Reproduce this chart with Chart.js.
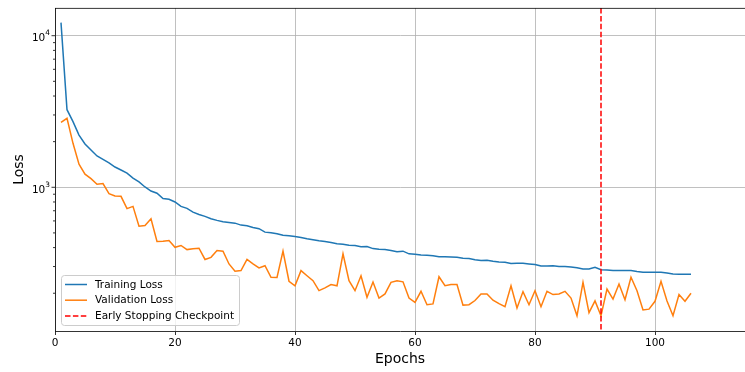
<!DOCTYPE html>
<html>
<head>
<meta charset="utf-8">
<script src="https://cdn.jsdelivr.net/npm/chart.js@4.4.0/dist/chart.umd.min.js"></script>
<style>
  html, body { margin: 0; padding: 0; background: #fff; }
  #lossChart { display: block; }
</style>
</head>
<body>
<canvas id="lossChart" width="745" height="372"></canvas>
<script>
// epochs on the x axis
const epochs = [1,2,3,4,5,6,7,8,9,10,11,12,13,14,15,16,17,18,19,20,21,22,23,24,25,26,27,28,29,30,
  31,32,33,34,35,36,37,38,39,40,41,42,43,44,45,46,47,48,49,50,51,52,53,54,55,56,57,58,59,60,
  61,62,63,64,65,66,67,68,69,70,71,72,73,74,75,76,77,78,79,80,81,82,83,84,85,86,87,88,89,90,
  91,92,93,94,95,96,97,98,99,100,101,102,103,104,105,106];

const trainLoss = [12200,3250,2710,2210,1930,1760,1610,1530,1450,1360,1300,1240,1150,1085,1005,945,913,843,833,800,
  748,726,686,662,643,620,605,593,586,580,563,558,543,533,506,501,494,483,479,474,
  467,457,450,444,439,432,424,421,415,413,405,407,394,390,388,383,375,379,364,362,
  358,356,353,348,348,347,345,340,339,333,329,330,325,322,320,314,315,315,312,309,
  303,303,304,300,300,298,295,289,289,297,286,285,282,282,283,282,278,275,275,275,
  275,272,268,267,267,267];

const valLoss = [2680,2850,1950,1420,1220,1140,1047,1058,908,876,872,723,748,554,560,620,439,440,446,402,
  413,388,393,396,334,345,383,379,312,279,282,334,312,294,304,255,254,379,240,224,
  282,261,242,208,217,228,224,364,242,208,261,188,237,186,198,236,242,238,186,174,
  206,168,170,257,224,228,228,167,168,179,198,198,180,171,163,224,160,205,168,208,
  163,206,196,198,206,186,142,236,149,178,142,213,183,230,181,255,208,155,157,177,
  240,178,142,196,177,200];

const earlyStopEpoch = 91;

const xTicks = [0, 20, 40, 60, 80, 100];
const yMajorTicks = [1000, 10000];
const yMinorTicks = [200, 300, 400, 500, 600, 700, 800, 900, 2000, 3000, 4000, 5000, 6000, 7000, 8000, 9000];

const legendItems = ['Training Loss', 'Validation Loss', 'Early Stopping Checkpoint'];

const FONT = "'DejaVu Sans', sans-serif";
const BLUE = '#1f77b4';
const ORANGE = '#ff7f0e';
const DASH = [5.5, 2.4];

const toPoints = vals => vals.map((v, i) => ({ x: epochs[i], y: v }));

// extra matplotlib-looking bits: top spine, y ticks with superscript labels, stop line, legend
const mplExtras = {
  id: 'mplExtras',
  afterDatasetsDraw(chart) {
    const { ctx, chartArea, scales } = chart;
    const x = scales.x.getPixelForValue(earlyStopEpoch);
    ctx.save();
    ctx.strokeStyle = 'red';
    ctx.lineWidth = 1.5;
    ctx.setLineDash(DASH);
    ctx.beginPath();
    ctx.moveTo(x, chartArea.top);
    ctx.lineTo(x, chartArea.bottom);
    ctx.stroke();
    ctx.restore();
  },
  afterDraw(chart) {
    const { ctx, chartArea, scales } = chart;
    const y = scales.y;
    ctx.save();

    // top spine
    ctx.strokeStyle = '#000';
    ctx.lineWidth = 0.8;
    ctx.beginPath();
    ctx.moveTo(chartArea.left, chartArea.top + 0.4);
    ctx.lineTo(chartArea.right, chartArea.top + 0.4);
    ctx.stroke();

    // y tick marks
    ctx.lineWidth = 0.8;
    yMinorTicks.concat(yMajorTicks).forEach(v => {
      if (v < y.min || v > y.max) return;
      const py = y.getPixelForValue(v);
      const len = yMajorTicks.includes(v) ? 3.5 : 2;
      ctx.beginPath();
      ctx.moveTo(chartArea.left, py);
      ctx.lineTo(chartArea.left - len, py);
      ctx.stroke();
    });

    // y tick labels like 10^3
    ctx.fillStyle = '#000';
    ctx.textBaseline = 'alphabetic';
    yMajorTicks.forEach(v => {
      if (v < y.min || v > y.max) return;
      const py = y.getPixelForValue(v);
      const exp = String(Math.round(Math.log10(v)));
      ctx.font = '7.4px ' + FONT;
      const expW = ctx.measureText(exp).width;
      ctx.font = '10.5px ' + FONT;
      const baseW = ctx.measureText('10').width;
      const right = chartArea.left - 5;
      ctx.textAlign = 'left';
      ctx.fillText('10', right - expW - baseW, py + 5.5);
      ctx.font = '7.4px ' + FONT;
      ctx.fillText(exp, right - expW, py - 0.5);
    });

    // legend
    const bx = 61, by = 275, bw = 178, bh = 50;
    ctx.fillStyle = 'rgba(255,255,255,0.8)';
    ctx.strokeStyle = '#cccccc';
    ctx.lineWidth = 1;
    ctx.beginPath();
    ctx.roundRect(bx + 0.5, by + 0.5, bw, bh, 3);
    ctx.fill();
    ctx.stroke();

    const colors = [BLUE, ORANGE, 'red'];
    ctx.font = '10.5px ' + FONT;
    ctx.textBaseline = 'middle';
    ctx.textAlign = 'left';
    legendItems.forEach((label, i) => {
      const ly = by + 9.5 + i * 15.7;
      ctx.strokeStyle = colors[i];
      ctx.lineWidth = 1.5;
      ctx.setLineDash(i === 2 ? DASH : []);
      ctx.beginPath();
      ctx.moveTo(65, ly);
      ctx.lineTo(87, ly);
      ctx.stroke();
      ctx.setLineDash([]);
      ctx.fillStyle = '#000';
      ctx.fillText(label, 95, ly + 0.5);
    });

    ctx.restore();
  }
};

new Chart(document.getElementById('lossChart'), {
  type: 'line',
  data: {
    datasets: [{
      label: legendItems[0],
      data: toPoints(trainLoss),
      borderColor: BLUE,
      borderWidth: 1.5,
      pointRadius: 0,
      tension: 0,
      order: 1
    }, {
      label: legendItems[1],
      data: toPoints(valLoss),
      borderColor: ORANGE,
      borderWidth: 1.5,
      pointRadius: 0,
      tension: 0,
      order: 0
    }]
  },
  options: {
    responsive: false,
    animation: false,
    devicePixelRatio: 1,
    layout: { padding: { top: 8, left: 0, right: 0, bottom: 0 } },
    plugins: {
      legend: { display: false },
      tooltip: { enabled: false }
    },
    scales: {
      x: {
        type: 'linear',
        min: 0,
        max: 115,
        afterBuildTicks: s => { s.ticks = xTicks.map(v => ({ value: v })); },
        afterFit: s => { s.height = 41; },
        grid: { color: '#b0b0b0', lineWidth: 0.8, drawTicks: true, tickLength: 4, tickColor: '#000' },
        border: { display: true, color: '#000', width: 0.8 },
        ticks: { color: '#000', font: { family: FONT, size: 10.5 }, padding: 2, maxRotation: 0, autoSkip: false },
        title: { display: true, text: 'Epochs', color: '#000', font: { family: FONT, size: 14 }, padding: { top: 0, bottom: 4 } }
      },
      y: {
        type: 'logarithmic',
        min: 112.7,
        max: 15230,
        afterBuildTicks: s => {
          s.ticks = yMinorTicks.concat(yMajorTicks).map(v => ({ value: v, major: yMajorTicks.includes(v) }));
        },
        afterFit: s => { s.width = 55; },
        grid: {
          color: c => (c.tick && c.tick.major ? '#b0b0b0' : 'rgba(0,0,0,0)'),
          lineWidth: 0.8,
          drawTicks: false
        },
        border: { display: true, color: '#000', width: 0.8 },
        ticks: { display: false },
        title: { display: true, text: 'Loss', color: '#000', font: { family: FONT, size: 14 }, padding: { top: 11, bottom: 0 } }
      }
    }
  },
  plugins: [mplExtras]
});
</script>
</body>
</html>
